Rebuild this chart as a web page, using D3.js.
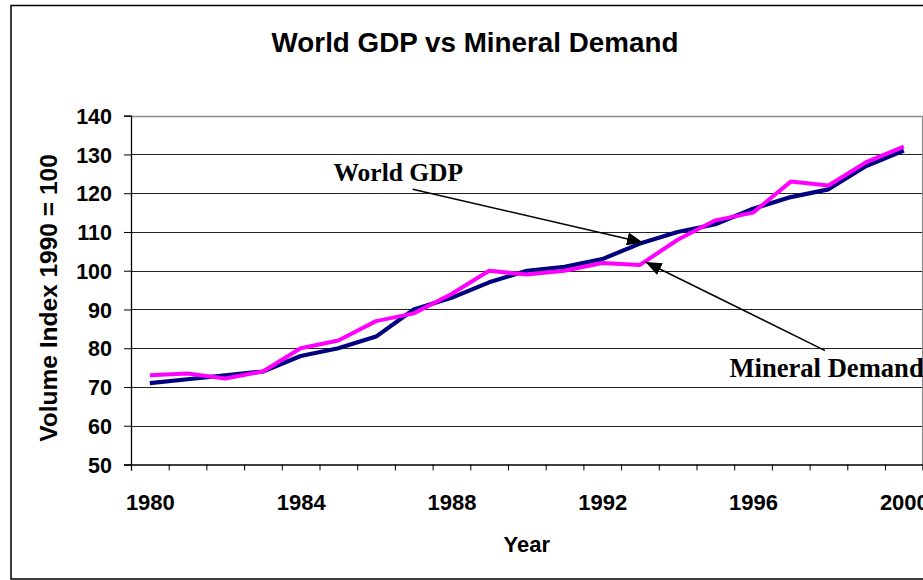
<!DOCTYPE html>
<html>
<head>
<meta charset="utf-8">
<script src="https://cdn.jsdelivr.net/npm/d3@7"></script>
<style>
  html, body { margin: 0; padding: 0; background: #fff; overflow: hidden; }
  svg { display: block; }
</style>
</head>
<body>
<svg id="chart" width="923" height="580"></svg>
<script>
// ---- data ----
const years = [1980,1981,1982,1983,1984,1985,1986,1987,1988,1989,1990,
               1991,1992,1993,1994,1995,1996,1997,1998,1999,2000];
const worldGDP = [71,72,73,74,78,80,83,90,93,97,100,101,103,107,110,112,116,119,121,127,131];
const mineralDemand = [73,73.5,72.2,74,80,82,87,89,94,100,99,100,102,101.5,108,113,115,123,122,128,132];
const yTicks = [50,60,70,80,90,100,110,120,130,140];
const xLabelYears = [1980,1984,1988,1992,1996,2000];
const chartTitle = "World GDP vs Mineral Demand";
const yTitle = "Volume Index 1990 = 100";
const xTitle = "Year";
// annotations in data units: label position, arrow start, arrow tip
const annotations = [
  { text: "World GDP", size: 25.5, lx: 1986.59, ly: 123.15, fx: 1986.97, fy: 121.0, tx: 1993.08, ty: 107.3 },
  { text: "Mineral Demand", size: 26.6, lx: 1997.95, ly: 72.7, fx: 1997.91, fy: 79.4, tx: 1993.15, ty: 102.25 }
];

// ---- layout ----
const svg = d3.select("#chart");
const plot = { left: 131, right: 922.7, top: 115.7, bottom: 464.5 };

const x = d3.scaleLinear().domain([1979.5, 2000.5]).range([plot.left, plot.right]);
const y = d3.scaleLinear().domain([50, 140]).range([plot.bottom, plot.top]);

// outer border
svg.append("rect")
  .attr("x", 11).attr("y", 5.5).attr("width", 930).attr("height", 573.5)
  .attr("fill", "none").attr("stroke", "#000").attr("stroke-width", 1.5);

// title
svg.append("text")
  .attr("x", 475).attr("y", 51.5)
  .attr("text-anchor", "middle")
  .style("font-family", "'Liberation Sans', Arial, sans-serif")
  .style("font-weight", "bold").style("font-size", "27.8px")
  .text(chartTitle);

// gridlines
svg.append("g").selectAll("line")
  .data(yTicks.filter(v => v > 50 && v < 140))
  .join("line")
  .attr("x1", plot.left).attr("x2", plot.right)
  .attr("y1", d => Math.round(y(d)) + 0.5).attr("y2", d => Math.round(y(d)) + 0.5)
  .attr("stroke", "#222").attr("stroke-width", 1);

// plot area border (top & right, gray)
svg.append("path")
  .attr("d", `M${plot.left},${Math.round(y(140))+0.5}H${plot.right}V${plot.bottom}`)
  .attr("fill", "none").attr("stroke", "#8c8c8c").attr("stroke-width", 1.5);

// y axis
const yAxis = d3.axisLeft(y).tickValues(yTicks).tickSize(7).tickPadding(12).tickFormat(d3.format("d"));
const gy = svg.append("g").attr("transform", `translate(${plot.left},0)`).call(yAxis);
gy.select(".domain").attr("stroke", "#000").attr("stroke-width", 1.3);
gy.selectAll(".tick line").attr("stroke", "#000");
gy.selectAll(".tick text")
  .style("font-family", "'Liberation Sans', Arial, sans-serif")
  .style("font-weight", "bold").style("font-size", "21.5px").attr("fill", "#000")
  .attr("dy", "0.36em");

// x axis ticks at category boundaries
const boundaries = years.map(v => v - 0.5).concat([years[years.length - 1] + 0.5]);
const xAxis = d3.axisBottom(x).tickValues(boundaries).tickSize(6).tickFormat("");
const gx = svg.append("g").attr("transform", `translate(0,${plot.bottom})`).call(xAxis);
gx.select(".domain").attr("stroke", "#000").attr("stroke-width", 1.3);
gx.selectAll(".tick line").attr("stroke", "#000");

// x labels
const xLab = d3.axisBottom(x).tickValues(xLabelYears).tickSize(0).tickPadding(0).tickFormat(d3.format("d"));
const gxl = svg.append("g").attr("transform", `translate(0,${plot.bottom})`).call(xLab);
gxl.select(".domain").remove();
gxl.selectAll(".tick text")
  .attr("y", 45.5).attr("dy", 0)
  .style("font-family", "'Liberation Sans', Arial, sans-serif")
  .style("font-weight", "bold").style("font-size", "22px").attr("fill", "#000");

// axis titles
svg.append("text")
  .attr("transform", `translate(56.5,298) rotate(-90)`)
  .attr("text-anchor", "middle")
  .style("font-family", "'Liberation Sans', Arial, sans-serif")
  .style("font-weight", "bold").style("font-size", "24.5px")
  .text(yTitle);
svg.append("text")
  .attr("x", (plot.left + plot.right) / 2).attr("y", 551.5)
  .attr("text-anchor", "middle")
  .style("font-family", "'Liberation Sans', Arial, sans-serif")
  .style("font-weight", "bold").style("font-size", "22px")
  .text(xTitle);

// lines
const line = d3.line().x((d, i) => x(years[i])).y(d => y(d));
svg.append("path").datum(worldGDP)
  .attr("d", line).attr("fill", "none")
  .attr("stroke", "#000080").attr("stroke-width", 4.2).attr("stroke-linejoin", "round");
svg.append("path").datum(mineralDemand)
  .attr("d", line).attr("fill", "none")
  .attr("stroke", "#FF00FF").attr("stroke-width", 4).attr("stroke-linejoin", "round");

// arrow marker
svg.append("defs").append("marker")
  .attr("id", "arrow").attr("markerUnits", "userSpaceOnUse")
  .attr("viewBox", "0 0 16 13").attr("refX", 16).attr("refY", 6.5)
  .attr("markerWidth", 16).attr("markerHeight", 13).attr("orient", "auto")
  .append("path").attr("d", "M0,0L16,6.5L0,13Z").attr("fill", "#000");

// annotations
const ga = svg.append("g");
ga.selectAll("line").data(annotations).join("line")
  .attr("x1", d => x(d.fx)).attr("y1", d => y(d.fy))
  .attr("x2", d => x(d.tx)).attr("y2", d => y(d.ty))
  .attr("stroke", "#000").attr("stroke-width", 1.5)
  .attr("marker-end", "url(#arrow)");
ga.selectAll("text").data(annotations).join("text")
  .attr("x", d => x(d.lx)).attr("y", d => y(d.ly))
  .attr("text-anchor", "middle")
  .style("font-family", "'Liberation Serif', 'Times New Roman', serif")
  .style("font-weight", "bold").style("font-size", d => d.size + "px")
  .text(d => d.text);
</script>
</body>
</html>
